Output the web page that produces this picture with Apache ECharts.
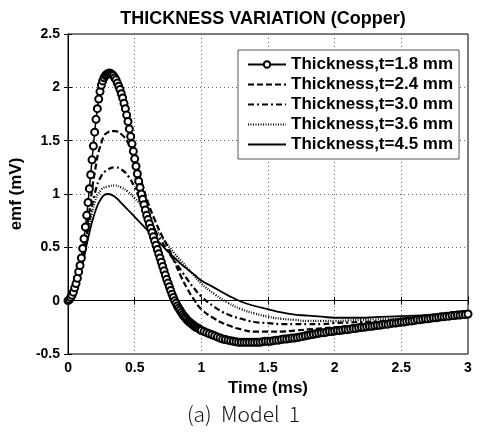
<!DOCTYPE html>
<html>
<head>
<meta charset="utf-8">
<script src="https://cdn.jsdelivr.net/npm/echarts@6/dist/echarts.min.js"></script>
<style>html,body{margin:0;padding:0;background:#fff;}#c{width:483px;height:432px;}</style>
</head>
<body>
<div id="c"></div>
<script>
// ---- data ----
var seriesNames = ['Thickness,t=1.8 mm','Thickness,t=2.4 mm','Thickness,t=3.0 mm','Thickness,t=3.6 mm','Thickness,t=4.5 mm'];
var xTicks = ['0','0.5','1','1.5','2','2.5','3'];
var yTicks = ['-0.5','0','0.5','1','1.5','2','2.5'];

// fine time grid (ms) for the circle-marked series
var timeFine = [0,0.01,0.02,0.03,0.04,0.05,0.06,0.07,0.08,0.09,0.10,0.11,0.12,0.13,0.14,0.15,0.16,0.17,0.18,0.19,
  0.20,0.21,0.22,0.23,0.24,0.25,0.26,0.27,0.28,0.29,0.30,0.31,0.32,0.33,0.34,0.35,0.36,0.37,0.38,0.39,
  0.40,0.41,0.42,0.43,0.44,0.45,0.46,0.47,0.48,0.49,0.50,0.51,0.52,0.53,0.54,0.55,0.56,0.57,0.58,0.59,
  0.60,0.61,0.62,0.63,0.64,0.65,0.66,0.67,0.68,0.69,0.70,0.71,0.72,0.73,0.74,0.75,0.76,0.77,0.78,0.79,
  0.80,0.81,0.82,0.83,0.84,0.85,0.86,0.87,0.88,0.89,0.90,0.91,0.92,0.93,0.94,0.95,0.96,0.97,0.98,0.99,1.00,
  1.02,1.04,1.06,1.08,1.10,1.12,1.14,1.16,1.18,1.20,1.22,1.24,1.26,1.28,1.30,1.32,1.34,1.36,1.38,1.40,
  1.42,1.44,1.46,1.48,1.50,1.52,1.54,1.56,1.58,1.60,1.62,1.64,1.66,1.68,1.70,1.72,1.74,1.76,1.78,1.80,
  1.82,1.84,1.86,1.88,1.90,1.92,1.94,1.96,1.98,2.00,2.02,2.04,2.06,2.08,2.10,2.12,2.14,2.16,2.18,2.20,
  2.22,2.24,2.26,2.28,2.30,2.32,2.34,2.36,2.38,2.40,2.42,2.44,2.46,2.48,2.50,2.52,2.54,2.56,2.58,2.60,
  2.62,2.64,2.66,2.68,2.70,2.72,2.74,2.76,2.78,2.80,2.82,2.84,2.86,2.88,2.90,2.92,2.94,2.96,2.98,3.00];
var emf18 = [0.00,0.01,0.03,0.05,0.08,0.12,0.16,0.21,0.27,0.33,0.40,0.49,0.58,0.69,0.80,0.92,1.05,1.18,1.32,1.45,
  1.58,1.70,1.80,1.89,1.96,2.02,2.06,2.09,2.11,2.12,2.13,2.135,2.13,2.12,2.11,2.09,2.07,2.04,2.01,1.98,
  1.94,1.90,1.85,1.80,1.74,1.68,1.61,1.54,1.47,1.40,1.33,1.26,1.19,1.12,1.06,1.00,0.95,0.90,0.85,0.80,
  0.76,0.72,0.68,0.64,0.60,0.56,0.52,0.48,0.44,0.40,0.36,0.32,0.28,0.24,0.20,0.165,0.13,0.095,0.06,0.03,
  0.00,-0.025,-0.05,-0.07,-0.09,-0.11,-0.13,-0.145,-0.16,-0.175,-0.19,-0.20,-0.21,-0.22,-0.23,-0.24,-0.25,-0.255,-0.26,-0.27,-0.28,
  -0.29,-0.30,-0.31,-0.32,-0.33,-0.34,-0.35,-0.36,-0.365,-0.37,-0.375,-0.38,-0.385,-0.39,-0.39,-0.39,-0.39,-0.39,-0.39,-0.39,
  -0.39,-0.39,-0.385,-0.38,-0.38,-0.38,-0.375,-0.37,-0.37,-0.365,-0.36,-0.36,-0.355,-0.35,-0.35,-0.345,-0.34,-0.335,-0.33,-0.325,
  -0.32,-0.315,-0.31,-0.305,-0.30,-0.30,-0.295,-0.29,-0.29,-0.285,-0.28,-0.28,-0.275,-0.27,-0.27,-0.265,-0.26,-0.26,-0.255,-0.25,
  -0.25,-0.245,-0.24,-0.24,-0.235,-0.23,-0.23,-0.225,-0.22,-0.22,-0.215,-0.21,-0.21,-0.205,-0.20,-0.20,-0.195,-0.19,-0.19,-0.185,
  -0.18,-0.18,-0.175,-0.17,-0.17,-0.165,-0.16,-0.16,-0.155,-0.15,-0.15,-0.145,-0.145,-0.14,-0.14,-0.135,-0.135,-0.13,-0.13,-0.125];

// coarser time grid (ms) for the other series
var timeCoarse = [0,0.05,0.10,0.15,0.20,0.25,0.30,0.35,0.40,0.45,0.50,0.55,0.60,0.65,0.70,0.75,0.80,0.85,0.90,0.95,1.00,
  1.1,1.2,1.3,1.4,1.5,1.6,1.7,1.8,1.9,2.0,2.1,2.2,2.3,2.4,2.5,2.6,2.7,2.8,2.9,3.0];
var emf24 = [0,0.10,0.33,0.75,1.20,1.48,1.58,1.59,1.56,1.48,1.32,1.12,0.92,0.76,0.62,0.50,0.36,0.22,0.10,0.00,-0.08,
  -0.17,-0.23,-0.27,-0.29,-0.29,-0.29,-0.28,-0.27,-0.26,-0.25,-0.24,-0.23,-0.22,-0.21,-0.20,-0.18,-0.17,-0.16,-0.145,-0.13];
var emf30 = [0,0.10,0.32,0.68,1.00,1.17,1.23,1.25,1.23,1.17,1.06,0.92,0.78,0.66,0.56,0.46,0.37,0.28,0.19,0.11,0.04,
  -0.06,-0.13,-0.17,-0.20,-0.21,-0.22,-0.22,-0.22,-0.22,-0.21,-0.205,-0.20,-0.195,-0.19,-0.18,-0.17,-0.16,-0.15,-0.14,-0.125];
var emf36 = [0,0.10,0.30,0.62,0.92,1.04,1.07,1.08,1.06,1.02,0.96,0.89,0.79,0.68,0.60,0.52,0.44,0.37,0.30,0.23,0.16,
  0.06,-0.02,-0.08,-0.12,-0.15,-0.17,-0.18,-0.19,-0.19,-0.19,-0.185,-0.18,-0.175,-0.17,-0.165,-0.16,-0.15,-0.14,-0.13,-0.12];
var emf45 = [0,0.10,0.30,0.58,0.82,0.96,1.00,0.975,0.915,0.85,0.785,0.72,0.655,0.59,0.525,0.46,0.40,0.34,0.29,0.24,0.19,
  0.12,0.05,-0.01,-0.05,-0.08,-0.11,-0.13,-0.14,-0.15,-0.16,-0.16,-0.16,-0.155,-0.15,-0.145,-0.14,-0.135,-0.13,-0.125,-0.12];

function pairs(xs, ys){ var out=[]; for(var i=0;i<xs.length;i++){ out.push([xs[i], ys[i]]); } return out; }

var FONT = 'Liberation Sans';
var chart = echarts.init(document.getElementById('c'), null, {renderer:'canvas'});
var axisLine = {show:true, lineStyle:{color:'#000', width:1}};
var axisTick = {show:true, inside:true, length:4, lineStyle:{color:'#000'}};
chart.setOption({
  animation:false,
  backgroundColor:'#fff',
  title:{
    text:'THICKNESS VARIATION (Copper)',
    left:258, top:5, textAlign:'center',
    textStyle:{fontFamily:FONT, fontWeight:'bold', fontSize:18, color:'#000'}
  },
  grid:{left:58, right:15, top:34, bottom:78, show:true, borderColor:'#000', borderWidth:1, backgroundColor:'#fff'},
  legend:{
    orient:'vertical', left:238, top:50,
    padding:[6,6,6,9], itemGap:3, itemWidth:38, itemHeight:8,
    backgroundColor:'#fff', borderColor:'#555', borderWidth:1,
    textStyle:{fontFamily:FONT, fontWeight:'bold', fontSize:17, color:'#000'},
    data:[
      {name:seriesNames[0]},
      {name:seriesNames[1], itemStyle:{opacity:0}},
      {name:seriesNames[2], itemStyle:{opacity:0}},
      {name:seriesNames[3], itemStyle:{opacity:0}},
      {name:seriesNames[4], itemStyle:{opacity:0}}
    ]
  },
  xAxis:[{
    type:'value', min:0, max:3, interval:0.5, position:'bottom',
    axisLine:axisLine, axisTick:axisTick,
    axisLabel:{fontFamily:FONT, fontWeight:'bold', fontSize:14, color:'#000', margin:7,
      formatter:function(v){ var i=Math.round(v/0.5); return xTicks[i]; }},
    splitLine:{show:true, lineStyle:{type:[1,3], color:'#666', width:1}},
    name:'Time (ms)', nameLocation:'middle', nameGap:23,
    nameTextStyle:{fontFamily:FONT, fontWeight:'bold', fontSize:17, color:'#000'}
  },{
    type:'value', min:0, max:3, interval:0.5, position:'top',
    axisLine:axisLine, axisTick:axisTick,
    axisLabel:{show:false}, splitLine:{show:false}
  }],
  yAxis:[{
    type:'value', min:-0.5, max:2.5, interval:0.5, position:'left',
    axisLine:axisLine, axisTick:axisTick,
    axisLabel:{fontFamily:FONT, fontWeight:'bold', fontSize:14, color:'#000', margin:8,
      formatter:function(v){ var i=Math.round((v+0.5)/0.5); return yTicks[i]; }},
    splitLine:{show:true, lineStyle:{type:[1,3], color:'#666', width:1}},
    name:'emf (mV)', nameLocation:'middle', nameGap:34, nameRotate:90,
    nameTextStyle:{fontFamily:FONT, fontWeight:'bold', fontSize:17, color:'#000'}
  },{
    type:'value', min:-0.5, max:2.5, interval:0.5, position:'right',
    axisLine:axisLine, axisTick:axisTick,
    axisLabel:{show:false}, splitLine:{show:false}
  }],
  graphic:[{
    type:'text', left:187, top:404,
    style:{text:'(a)  Model  1', fontFamily:'Noto Sans CJK KR', fontWeight:300, fontSize:21, fill:'#111'}
  }],
  series:[
    {name:seriesNames[0], type:'line', data:pairs(timeFine, emf18), showAllSymbol:true,
      symbol:'circle', symbolSize:7,
      itemStyle:{color:'#fff', borderColor:'#000', borderWidth:2},
      lineStyle:{color:'#000', width:1.5}},
    {name:seriesNames[1], type:'line', data:pairs(timeCoarse, emf24), smooth:true, symbol:'none',
      itemStyle:{color:'#000'}, lineStyle:{color:'#000', width:2.2, type:[6,3]}},
    {name:seriesNames[2], type:'line', data:pairs(timeCoarse, emf30), smooth:true, symbol:'none',
      itemStyle:{color:'#000'}, lineStyle:{color:'#000', width:2.2, type:[6,3,2,3]}},
    {name:seriesNames[3], type:'line', data:pairs(timeCoarse, emf36), smooth:true, symbol:'none',
      itemStyle:{color:'#000'}, lineStyle:{color:'#000', width:2.2, type:[1,1.5]}},
    {name:seriesNames[4], type:'line', data:pairs(timeCoarse, emf45), smooth:true, symbol:'none',
      itemStyle:{color:'#000'}, lineStyle:{color:'#000', width:1.8}}
  ]
});
</script>
</body>
</html>
